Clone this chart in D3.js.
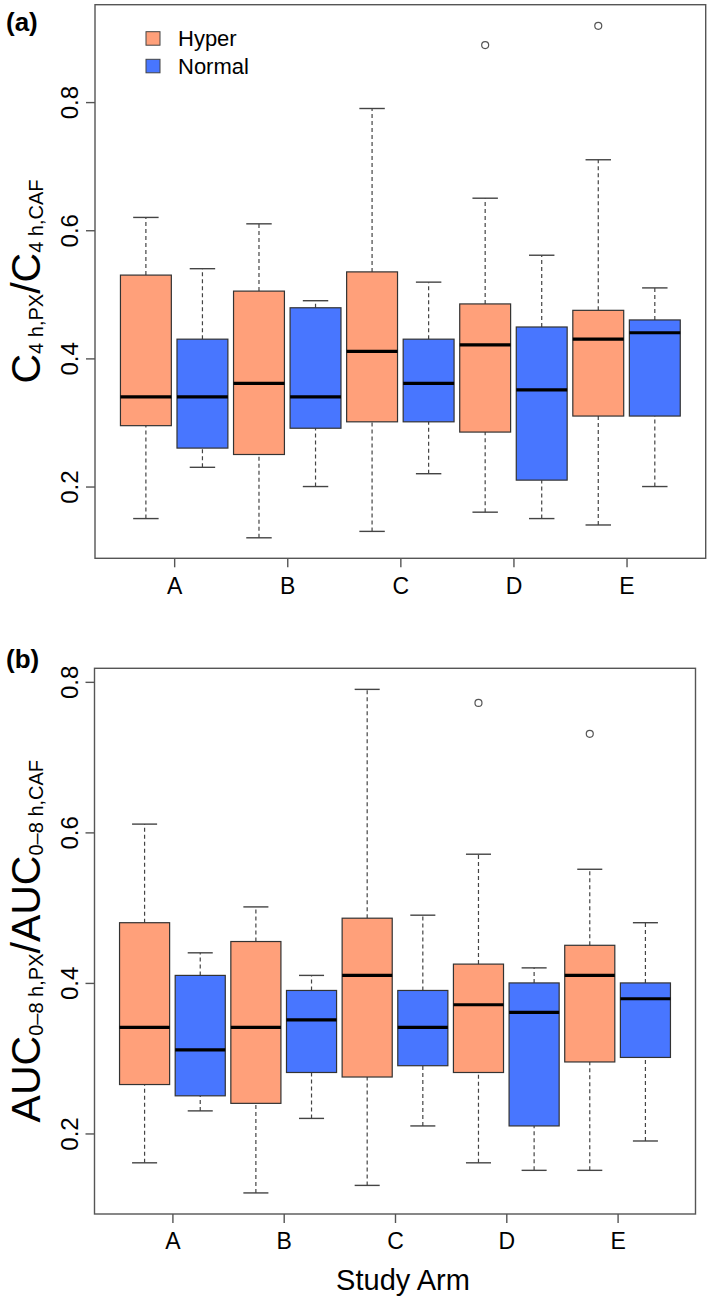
<!DOCTYPE html>
<html>
<head>
<meta charset="utf-8">
<script src="https://cdn.jsdelivr.net/npm/d3@7"></script>
<style>
  html, body { margin: 0; padding: 0; background: #fff; }
  svg { display: block; font-family: "Liberation Sans", Arial, Helvetica, sans-serif; }
</style>
</head>
<body>
<svg id="chart" width="709" height="1304"></svg>
<script>
// ---------- data ----------
const categories = ["A", "B", "C", "D", "E"];
const seriesNames = ["Hyper", "Normal"];
const seriesColors = ["#FFA07A", "#4876FF"];
const yTickValues = [0.2, 0.4, 0.6, 0.8];

// panel (a): [lower whisker, Q1, median, Q3, upper whisker] per arm
const aHyper  = [[0.150, 0.295, 0.340, 0.530, 0.620],
                 [0.120, 0.250, 0.361, 0.505, 0.610],
                 [0.130, 0.301, 0.411, 0.535, 0.790],
                 [0.160, 0.285, 0.421, 0.485, 0.650],
                 [0.140, 0.310, 0.430, 0.475, 0.710]];
const aNormal = [[0.230, 0.260, 0.340, 0.430, 0.540],
                 [0.200, 0.291, 0.340, 0.479, 0.490],
                 [0.220, 0.301, 0.361, 0.430, 0.519],
                 [0.150, 0.210, 0.351, 0.449, 0.561],
                 [0.200, 0.310, 0.440, 0.460, 0.510]];
const aHyperOutliers  = [[], [], [], [0.889], [0.919]];
const aNormalOutliers = [[], [], [], [], []];

// panel (b): [lower whisker, Q1, median, Q3, upper whisker] per arm
const bHyper  = [[0.161, 0.265, 0.341, 0.480, 0.611],
                 [0.121, 0.240, 0.341, 0.455, 0.501],
                 [0.131, 0.275, 0.410, 0.486, 0.790],
                 [0.161, 0.281, 0.371, 0.425, 0.571],
                 [0.151, 0.295, 0.410, 0.450, 0.551]];
const bNormal = [[0.230, 0.250, 0.311, 0.410, 0.440],
                 [0.220, 0.281, 0.351, 0.390, 0.410],
                 [0.210, 0.290, 0.341, 0.390, 0.490],
                 [0.151, 0.210, 0.361, 0.400, 0.420],
                 [0.190, 0.301, 0.379, 0.400, 0.480]];
const bHyperOutliers  = [[], [], [], [0.772], [0.731]];
const bNormalOutliers = [[], [], [], [], []];

// ---------- drawing ----------
const svg = d3.select("#chart");
const frameColor = "#555";

function drawPanel(cfg) {
  const x = d3.scaleLinear().domain([0.1, 10.9]).range([cfg.left, cfg.right]);
  const y = d3.scaleLinear().domain(cfg.yDomain).range([cfg.bottom, cfg.top]);
  const g = svg.append("g");
  const boxW = (x(1.9) - x(1)); // 0.9 unit width
  const series = [cfg.hyper, cfg.normal];
  const outliers = [cfg.hyperOut, cfg.normalOut];

  series.forEach((stats, s) => {
    stats.forEach((d, i) => {
      const pos = 2 * i + 1 + s;
      const cx = x(pos);
      const bg = g.append("g");
      // whiskers (dashed)
      bg.append("line").attr("x1", cx).attr("x2", cx).attr("y1", y(d[0])).attr("y2", y(d[1]))
        .attr("stroke", "#444").attr("stroke-width", 1.2).attr("stroke-dasharray", "4,3");
      bg.append("line").attr("x1", cx).attr("x2", cx).attr("y1", y(d[3])).attr("y2", y(d[4]))
        .attr("stroke", "#444").attr("stroke-width", 1.2).attr("stroke-dasharray", "4,3");
      // staples
      [d[0], d[4]].forEach(v => {
        bg.append("line").attr("x1", cx - boxW / 4).attr("x2", cx + boxW / 4)
          .attr("y1", y(v)).attr("y2", y(v)).attr("stroke", "#444").attr("stroke-width", 1.4);
      });
      // box
      bg.append("rect").attr("x", cx - boxW / 2).attr("width", boxW)
        .attr("y", y(d[3])).attr("height", y(d[1]) - y(d[3]))
        .attr("fill", seriesColors[s]).attr("stroke", "#333").attr("stroke-width", 1.2);
      // median
      bg.append("line").attr("x1", cx - boxW / 2).attr("x2", cx + boxW / 2)
        .attr("y1", y(d[2])).attr("y2", y(d[2])).attr("stroke", "#000").attr("stroke-width", 3.2);
      // outliers
      outliers[s][i].forEach(v => {
        bg.append("circle").attr("cx", cx).attr("cy", y(v)).attr("r", 3.5)
          .attr("fill", "none").attr("stroke", "#555").attr("stroke-width", 1.2);
      });
    });
  });

  // frame
  g.append("rect").attr("x", cfg.left).attr("y", cfg.top)
    .attr("width", cfg.right - cfg.left).attr("height", cfg.bottom - cfg.top)
    .attr("fill", "none").attr("stroke", frameColor).attr("stroke-width", 1.4);

  // x axis
  const xAxis = d3.axisBottom(x)
    .tickValues(categories.map((c, i) => 2 * i + 1.5))
    .tickFormat((d, i) => categories[i])
    .tickSize(9).tickPadding(10);
  const xa = g.append("g").attr("transform", `translate(0,${cfg.bottom})`).call(xAxis);
  xa.select(".domain").remove();
  xa.selectAll(".tick line").attr("stroke", frameColor).attr("stroke-width", 1.4);
  xa.selectAll(".tick text").attr("font-size", 23).attr("fill", "#000")
    .attr("font-family", '"Liberation Sans", Arial, sans-serif');

  // y axis
  const yAxis = d3.axisLeft(y).tickValues(yTickValues).tickFormat(d3.format(".1f"))
    .tickSize(9).tickPadding(0);
  const ya = g.append("g").attr("transform", `translate(${cfg.left},0)`).call(yAxis);
  ya.select(".domain").remove();
  ya.selectAll(".tick line").attr("stroke", frameColor).attr("stroke-width", 1.4);
  ya.selectAll(".tick text")
    .attr("font-size", 24).attr("fill", "#000")
    .attr("font-family", '"Liberation Sans", Arial, sans-serif')
    .attr("text-anchor", "middle").attr("dy", null)
    .attr("x", null)
    .attr("transform", `translate(${78 - cfg.left},0) rotate(-90)`);

  // y title with subscripts
  const cy = (cfg.top + cfg.bottom) / 2;
  const t = svg.append("text")
    .attr("transform", `translate(40,${cy}) rotate(-90)`)
    .attr("text-anchor", "middle").attr("fill", "#000");
  cfg.titleParts.forEach(p => {
    const ts = t.append("tspan").text(p.text).attr("font-size", p.sub ? 20 : 41);
    if (p.dy) ts.attr("dy", p.dy);
  });

  // panel tag
  svg.append("text").attr("x", 6).attr("y", cfg.tagY).text(cfg.tag)
    .attr("font-size", 26).attr("font-weight", "bold").attr("fill", "#000");

  return { x, y };
}

drawPanel({
  left: 95, right: 705.7, top: 4.7, bottom: 558.3, yDomain: [0.088, 0.952],
  hyper: aHyper, normal: aNormal, hyperOut: aHyperOutliers, normalOut: aNormalOutliers,
  tag: "(a)", tagY: 31,
  titleParts: [
    { text: "C" }, { text: "4 h,PX", sub: true, dy: 3 }, { text: "/", dy: -3 },
    { text: "C" }, { text: "4 h,CAF", sub: true, dy: 3 }
  ]
});

drawPanel({
  left: 94.5, right: 695.5, top: 668.3, bottom: 1214, yDomain: [0.093, 0.818],
  hyper: bHyper, normal: bNormal, hyperOut: bHyperOutliers, normalOut: bNormalOutliers,
  tag: "(b)", tagY: 668,
  titleParts: [
    { text: "AUC" }, { text: "0\u20138 h,PX", sub: true, dy: 3 }, { text: "/", dy: -3 },
    { text: "AUC" }, { text: "0\u20138 h,CAF", sub: true, dy: 3 }
  ]
});

// legend (panel a)
const legend = svg.append("g");
seriesNames.forEach((name, i) => {
  const yy = 31.7 + i * 27.6;
  legend.append("rect").attr("x", 146).attr("y", yy).attr("width", 14).attr("height", 13.5)
    .attr("fill", seriesColors[i]).attr("stroke", "#444").attr("stroke-width", 1);
  legend.append("text").attr("x", 178).attr("y", yy + 14.5).text(name)
    .attr("font-size", 22).attr("fill", "#000");
});

// x title
svg.append("text").attr("x", 403).attr("y", 1290).attr("text-anchor", "middle")
  .attr("font-size", 29).attr("fill", "#000").text("Study Arm");
</script>
</body>
</html>
